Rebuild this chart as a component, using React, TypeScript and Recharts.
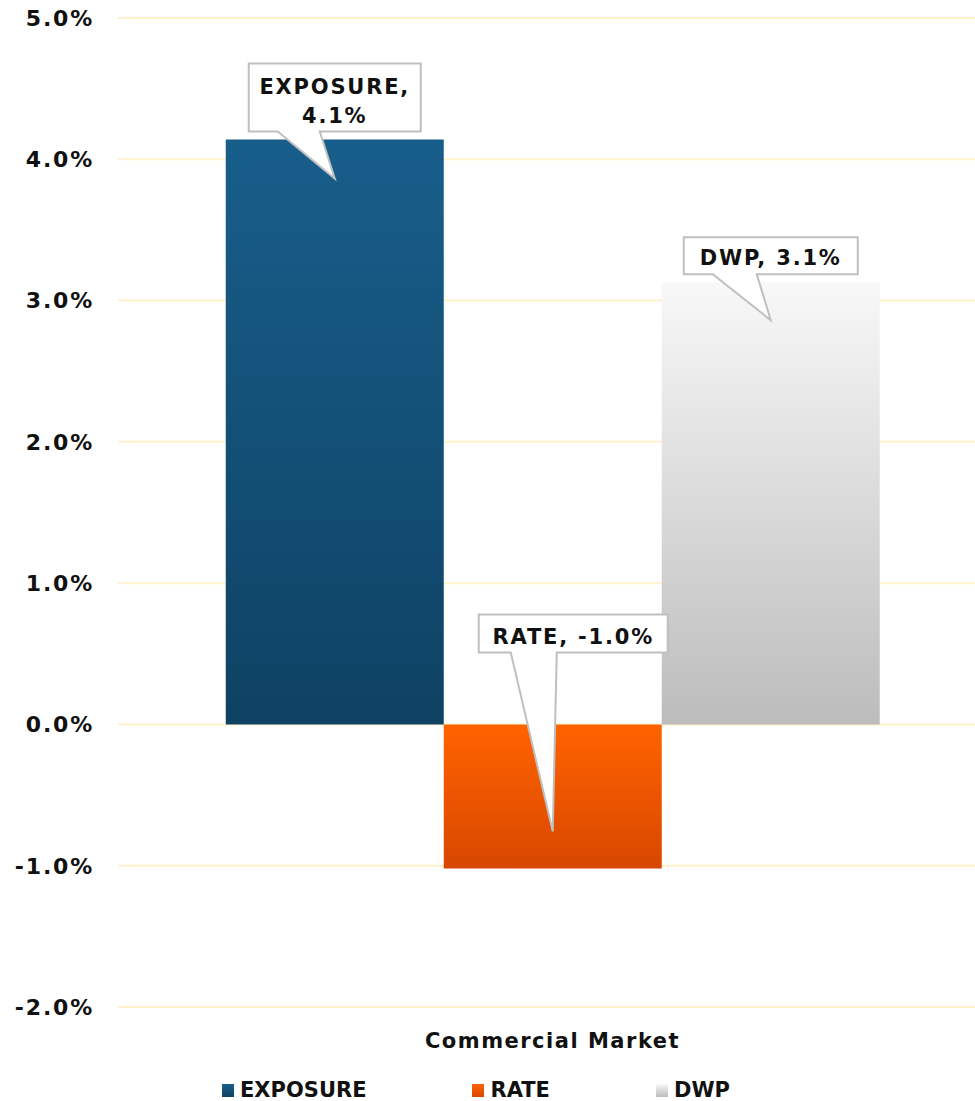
import React from 'react';
import { BarChart, Bar, XAxis, YAxis, CartesianGrid, Legend } from 'recharts';

const categories = ['Commercial Market'];
const seriesNames = ['EXPOSURE', 'RATE', 'DWP'];
const exposure = [4.14];
const rate = [-1.02];
const dwp = [3.13];
const yTicks = [-2, -1, 0, 1, 2, 3, 4, 5];

const data = categories.map((c, i) => ({
    name: c,
    EXPOSURE: exposure[i],
    RATE: rate[i],
    DWP: dwp[i],
}));

const FONT = '"DejaVu Sans", Verdana, sans-serif';

const gradients: Record<string, [string, string]> = {
    EXPOSURE: ['#185e8b', '#0e4263'],
    RATE: ['#ff6300', '#d84700'],
    DWP: ['#f8f8f8', '#bcbcbc'],
};

// callout box geometry, relative to the pointer tip
const callouts: Record<string, { left: number; right: number; top: number; bottom: number; base: [number, number]; inset: number; twoLines: boolean }> = {
    EXPOSURE: { left: -86, right: 86, top: -115, bottom: -47, base: [-57, -15], inset: 39, twoLines: true },
    RATE: { left: -74, right: 115, top: -217, bottom: -179, base: [-42, 4], inset: 37, twoLines: false },
    DWP: { left: -87, right: 87, top: -83, bottom: -46, base: [-58, -14], inset: 38, twoLines: false },
};

function makeCallout(series: string) {
    return (props: any) => {
        const { x, y, width, height, value } = props;
        const s = callouts[series];
        const top = Math.min(y, y + height);
        const bottom = Math.max(y, y + height);
        const cx = x + width / 2;
        const ty = value >= 0 ? top + s.inset : bottom - s.inset;
        const bx1 = cx + s.left;
        const bx2 = cx + s.right;
        const by1 = ty + s.top;
        const by2 = ty + s.bottom;
        const d = `M${bx1},${by1} H${bx2} V${by2} H${cx + s.base[1]} L${cx},${ty} L${cx + s.base[0]},${by2} H${bx1} Z`;
        const tx = (bx1 + bx2) / 2;
        const txt = `${Number(value).toFixed(1)}%`;
        const textProps = {
            x: tx,
            textAnchor: 'middle' as const,
            fontFamily: FONT,
            fontWeight: 700,
            fontSize: 21,
            letterSpacing: 1.8,
            fill: '#111',
        };
        return (
            <g>
                <path d={d} fill="#fff" stroke="#bfbfbf" strokeWidth={2} />
                {s.twoLines ? (
                    <>
                        <text {...textProps} y={by1 + 30}>{`${series},`}</text>
                        <text {...textProps} y={by1 + 59}>{txt}</text>
                    </>
                ) : (
                    <text {...textProps} y={by2 - 9}>{`${series}, ${txt}`}</text>
                )}
            </g>
        );
    };
}

function LegendRow() {
    return (
        <div style={{ display: 'flex', alignItems: 'center', paddingLeft: 222, paddingTop: 23, gap: 106 }}>
            {seriesNames.map(n => (
                <div key={n} style={{ display: 'flex', alignItems: 'center', gap: 6 }}>
                    <div
                        style={{
                            width: 12,
                            height: 13,
                            background: `linear-gradient(${gradients[n][0]}, ${gradients[n][1]})`,
                        }}
                    />
                    <span
                        style={{
                            fontFamily: FONT,
                            fontWeight: 700,
                            fontSize: 21,
                            lineHeight: '20px',
                            color: '#111',
                        }}
                    >
                        {n}
                    </span>
                </div>
            ))}
        </div>
    );
}

export default function App() {
    return (
        <div style={{ position: 'absolute', left: 0, top: 0, width: 975, height: 1101, overflow: 'hidden', background: '#fff' }}>
            <BarChart
                width={990}
                height={1101}
                data={data}
                margin={{ top: 18, right: 3, left: 0, bottom: 0 }}
                barCategoryGap="12.4%"
                barGap={0}
            >
                <defs>
                    {seriesNames.map(n => (
                        <linearGradient key={n} id={`grad-${n}`} x1="0" y1="0" x2="0" y2="1">
                            <stop offset="0%" stopColor={gradients[n][0]} />
                            <stop offset="100%" stopColor={gradients[n][1]} />
                        </linearGradient>
                    ))}
                </defs>
                <CartesianGrid vertical={false} stroke="#fff2cc" strokeWidth={2} />
                <XAxis
                    dataKey="name"
                    axisLine={false}
                    tickLine={false}
                    tickSize={0}
                    tickMargin={26}
                    height={50}
                    tick={{ fill: '#111', fontSize: 21, fontWeight: 700, fontFamily: FONT, letterSpacing: 1.5 }}
                />
                <YAxis
                    domain={[-2, 5]}
                    ticks={yTicks}
                    width={118}
                    axisLine={false}
                    tickLine={false}
                    tickSize={0}
                    tickMargin={24}
                    tickFormatter={(v: number) => `${v.toFixed(1)}%`}
                    tick={{ fill: '#111', fontSize: 22, fontWeight: 700, fontFamily: FONT, letterSpacing: 1.8 }}
                />
                <Legend
                    verticalAlign="bottom"
                    height={44}
                    wrapperStyle={{ left: 0, width: 990, bottom: 0 }}
                    content={() => <LegendRow />}
                />
                {seriesNames.map(n => (
                    <Bar
                        key={n}
                        dataKey={n}
                        fill={`url(#grad-${n})`}
                        isAnimationActive={false}
                        label={makeCallout(n)}
                    />
                ))}
            </BarChart>
        </div>
    );
}
